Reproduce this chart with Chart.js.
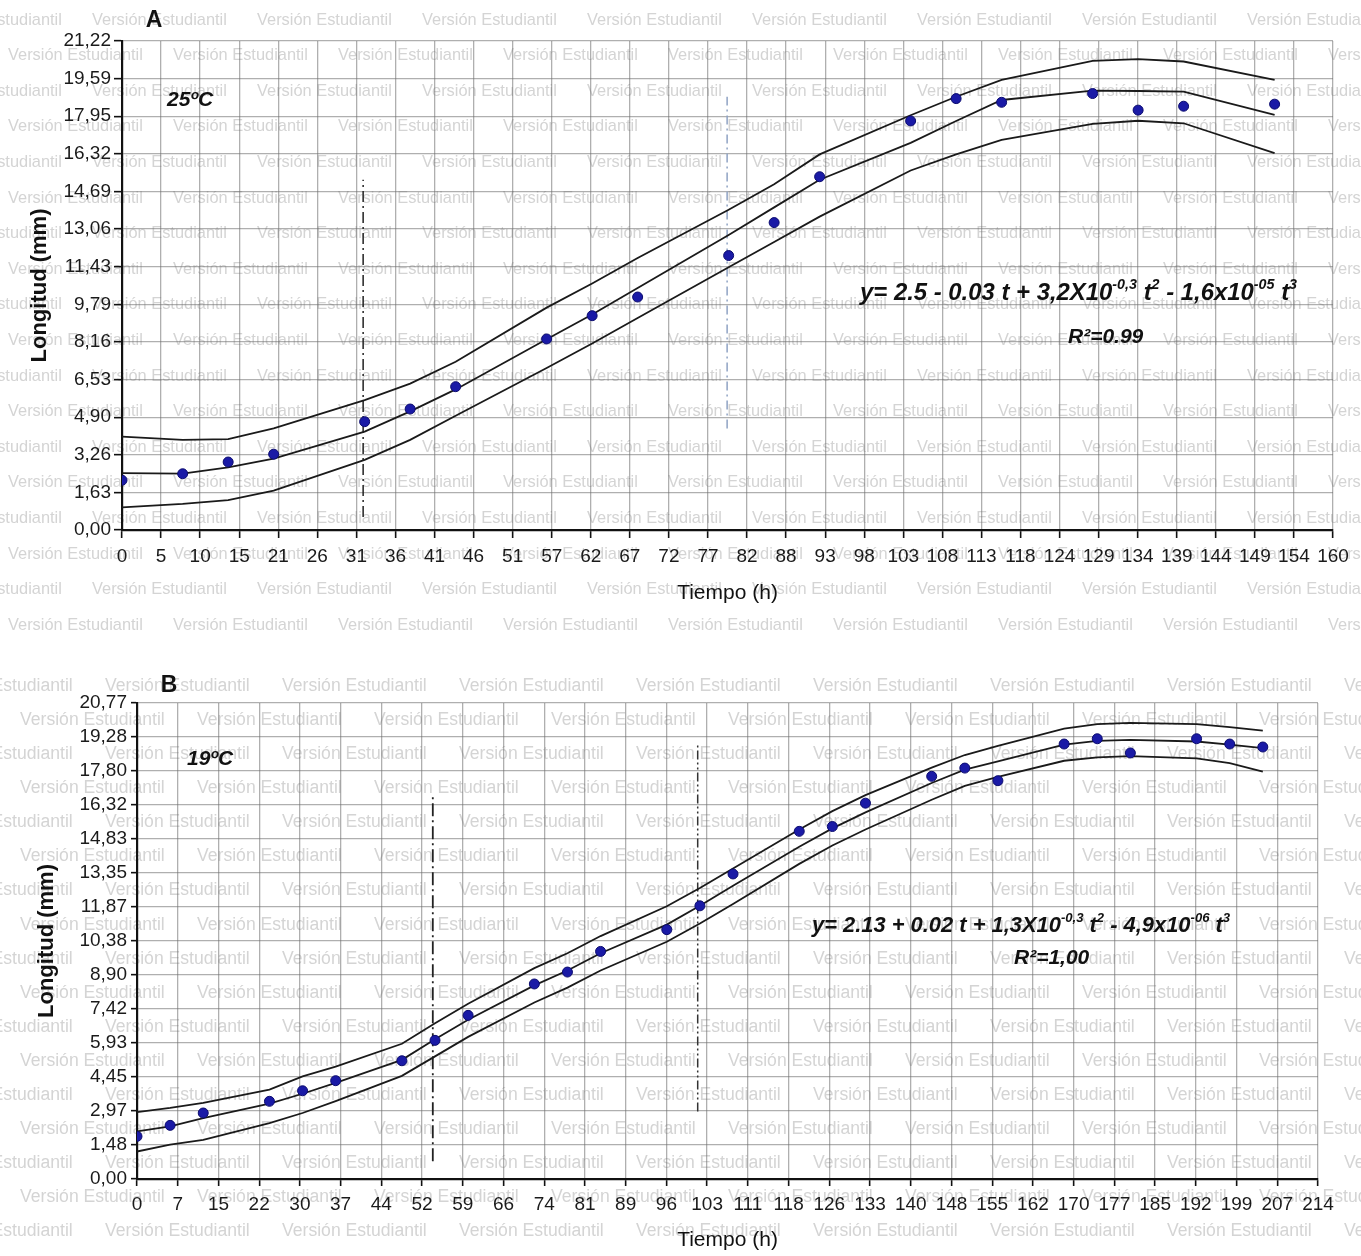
<!DOCTYPE html>
<html>
<head>
<meta charset="utf-8">
<script src="https://cdn.jsdelivr.net/npm/chart.js@4.4.1/dist/chart.umd.min.js"></script>
<style>
  html, body { margin: 0; padding: 0; background: #fff; }
  #wrap { position: relative; width: 1361px; height: 1256px; }
  canvas { position: absolute; left: 0; }
  #chartA { top: 0; }
  #chartB { top: 635px; }
</style>
</head>
<body>
<div id="wrap">
  <canvas id="chartA" width="1361" height="635"></canvas>
  <canvas id="chartB" width="1361" height="621"></canvas>
</div>
<script>
// ----- data, panel A (25 ºC)
const xTicksA = [0, 5, 10, 15, 21, 26, 31, 36, 41, 46, 51, 57, 62, 67, 72, 77, 82, 88, 93, 98,
  103, 108, 113, 118, 124, 129, 134, 139, 144, 149, 154, 160];
const yTicksA = [0, 1.63, 3.26, 4.90, 6.53, 8.16, 9.79, 11.43, 13.06, 14.69, 16.32, 17.95, 19.59, 21.22];
const timeA = [0, 8, 14, 20, 32, 38, 44, 56, 62, 68, 80, 86, 92, 104, 110, 116, 128, 134, 140, 152];
const lengthA = [2.16, 2.44, 2.95, 3.29, 4.70, 5.25, 6.22, 8.29, 9.30, 10.11, 11.91, 13.34, 15.33, 17.75, 18.72, 18.56, 18.94, 18.22, 18.39, 18.48];
const fitA = [2.47, 2.45, 2.72, 3.10, 4.27, 5.15, 6.10, 8.28, 9.35, 10.50, 12.80, 14.00, 15.20, 16.80, 17.75, 18.66, 19.07, 19.05, 19.02, 18.01];
const upperA = [4.05, 3.91, 3.94, 4.41, 5.64, 6.35, 7.30, 9.65, 10.70, 11.80, 13.90, 15.00, 16.30, 18.00, 18.80, 19.53, 20.36, 20.43, 20.33, 19.53];
const lowerA = [0.98, 1.13, 1.30, 1.71, 3.04, 3.91, 4.96, 7.03, 8.09, 9.20, 11.40, 12.50, 13.60, 15.60, 16.30, 16.93, 17.62, 17.76, 17.65, 16.35];
const guideTimeA = [31.8, 79.8];
const guideLowA = [0.56, 4.4];
const guideHighA = [15.2, 18.8];

// ----- data, panel B (19 ºC)
const xTicksB = [0, 7, 15, 22, 30, 37, 44, 52, 59, 66, 74, 81, 89, 96, 103, 111, 118, 126, 133, 140,
  148, 155, 162, 170, 177, 185, 192, 199, 207, 214];
const yTicksB = [0, 1.48, 2.97, 4.45, 5.93, 7.42, 8.90, 10.38, 11.87, 13.35, 14.83, 16.32, 17.80, 19.28, 20.77];
const timeB = [0, 6, 12, 24, 30, 36, 48, 54, 60, 72, 78, 84, 96, 102, 108, 120, 126, 132, 144, 150, 156, 168, 174, 180, 192, 198, 204];
const lengthB = [1.86, 2.34, 2.88, 3.39, 3.85, 4.29, 5.16, 6.05, 7.14, 8.51, 9.03, 9.93, 10.88, 11.92, 13.31, 15.17, 15.38, 16.40,
  17.57, 17.93, 17.38, 18.98, 19.21, 18.59, 19.21, 18.98, 18.85];
const fitB = [2.08, 2.30, 2.66, 3.29, 3.72, 4.19, 5.20, 6.10, 6.95, 8.45, 9.10, 9.85, 11.10, 11.92, 12.80, 14.50, 15.30, 16.00,
  17.28, 17.86, 18.22, 18.95, 19.12, 19.16, 19.09, 18.95, 18.80];
const upperB = [2.92, 3.10, 3.32, 3.90, 4.48, 4.90, 5.90, 6.80, 7.65, 9.20, 9.85, 10.60, 11.90, 12.70, 13.55, 15.25, 16.05, 16.75,
  17.95, 18.50, 18.90, 19.65, 19.85, 19.90, 19.85, 19.72, 19.56];
const lowerB = [1.20, 1.50, 1.71, 2.44, 2.88, 3.40, 4.50, 5.35, 6.20, 7.70, 8.35, 9.10, 10.35, 11.15, 12.00, 13.75, 14.55, 15.25,
  16.55, 17.15, 17.55, 18.25, 18.40, 18.45, 18.35, 18.15, 17.78];
const guideTimeB = [53.6, 101.6];
const guideLowB = [0.77, 2.95];
const guideHighB = [16.77, 18.95];

// ----- look
const NARROW = '"Liberation Sans Narrow", "Arial Narrow", "Liberation Sans", Arial, sans-serif';
const SANS = '"Liberation Sans", Arial, sans-serif';
const gridCol = 'rgba(110,110,110,0.55)';
const dotFill = '#1a1aa6';
const dotLine = '#0b0b6e';

function toXY(xs, ys) {
  return xs.map((x, i) => ({ x: x, y: ys[i] }));
}

function guide(t, lo, hi, color, dash, width) {
  return {
    data: [{ x: t, y: lo }, { x: t, y: hi }],
    showLine: true, borderColor: color, borderWidth: width, borderDash: dash,
    pointRadius: 0, fill: false
  };
}

function curve(xs, ys) {
  return {
    data: toXY(xs, ys), showLine: true, borderColor: '#1a1a1a', borderWidth: 1.8,
    pointRadius: 0, tension: 0, fill: false
  };
}

// rich text with superscripts, stretched to a given width
function drawRich(ctx, parts, x, y, target, family) {
  const fontFor = (s, sup) => 'italic bold ' + (sup ? s * 0.6 : s).toFixed(1) + 'px ' + family;
  const measure = s => parts.reduce((w, p) => {
    ctx.font = fontFor(s, p[1]);
    return w + ctx.measureText(p[0]).width;
  }, 0);
  const size = 22 * target / measure(22);
  ctx.textAlign = 'left';
  ctx.textBaseline = 'alphabetic';
  let cx = x;
  parts.forEach(p => {
    ctx.font = fontFor(size, p[1]);
    ctx.fillText(p[0], cx, p[1] ? y - size * 0.45 : y);
    cx += ctx.measureText(p[0]).width;
  });
}

const overlay = {
  id: 'overlay',
  beforeDraw(chart, args, o) {
    const ctx = chart.ctx;
    const wm = o.watermark;
    ctx.save();
    ctx.font = '19px ' + NARROW;
    const k = wm.width / ctx.measureText('Versión Estudiantil').width;
    ctx.font = (19 * k).toFixed(1) + 'px ' + NARROW;
    ctx.fillStyle = '#d4d4d4';
    ctx.textBaseline = 'middle';
    ctx.textAlign = 'left';
    for (let i = 0; i < wm.rows; i++) {
      const y = wm.y0 + i * wm.step;
      const start = (i % 2 ? wm.x1 : wm.x0) - 2 * wm.period;
      for (let x = start; x < chart.width; x += wm.period) ctx.fillText('Versión Estudiantil', x, y);
    }
    ctx.restore();
  },
  afterDraw(chart, args, o) {
    const ctx = chart.ctx;
    ctx.save();
    ctx.fillStyle = '#111';
    o.labels.forEach(l => {
      ctx.font = l.font;
      ctx.textAlign = l.align || 'left';
      ctx.textBaseline = 'middle';
      ctx.fillText(l.text, l.x, l.y);
    });
    drawRich(ctx, o.equation.parts, o.equation.x, o.equation.y, o.equation.width, SANS);
    ctx.restore();
  }
};

function buildOptions(p) {
  const tickFont = { family: NARROW, size: 19 };
  return {
    responsive: false,
    animation: false,
    layout: { padding: { left: 0, top: p.top, right: p.right, bottom: 0 } },
    plugins: {
      legend: { display: false },
      tooltip: { enabled: false },
      overlay: p.overlay
    },
    scales: {
      x: {
        type: 'linear', min: 0, max: p.xMax,
        afterBuildTicks: s => {
          s.ticks = p.xTicks.map((v, i) => ({ value: i * p.xMax / (p.xTicks.length - 1) }));
        },
        afterFit: s => { s.height = p.xAxisH; },
        ticks: {
          autoSkip: false, maxRotation: 0, minRotation: 0, padding: 7,
          color: '#1a1a1a', font: tickFont,
          callback: (v, i) => String(p.xTicks[i])
        },
        grid: { color: gridCol, lineWidth: 1.3, tickLength: p.xTickLen, tickColor: '#111', tickWidth: 1.6 },
        border: { color: '#111', width: 2.2 },
        title: {
          display: true, text: 'Tiempo (h)', color: '#111',
          font: { family: NARROW, size: 21 }, padding: { top: 0, bottom: p.xTitlePad }
        }
      },
      y: {
        type: 'linear', min: 0, max: p.yMax,
        afterBuildTicks: s => {
          s.ticks = p.yTicks.map((v, i) => ({ value: i * p.yMax / (p.yTicks.length - 1) }));
        },
        afterFit: s => { s.width = p.yAxisW; },
        ticks: {
          autoSkip: false, padding: p.yTickPad, color: '#1a1a1a', font: tickFont,
          callback: (v, i) => p.yTicks[i].toFixed(2).replace('.', ',')
        },
        grid: { color: gridCol, lineWidth: 1.3, tickLength: p.yTickLen, tickColor: '#111', tickWidth: 1.6 },
        border: { color: '#111', width: 2.2 },
        title: {
          display: true, text: 'Longitud (mm)', color: '#111',
          font: { family: NARROW, size: 22, weight: 'bold' }, padding: { top: p.yTitlePad, bottom: 0 }
        }
      }
    }
  };
}

// ----- panel A
new Chart(document.getElementById('chartA'), {
  type: 'scatter',
  plugins: [overlay],
  data: {
    datasets: [
      { data: toXY(timeA, lengthA), pointRadius: 5, pointBackgroundColor: dotFill, pointBorderColor: dotLine, pointBorderWidth: 1 },
      curve(timeA, fitA),
      curve(timeA, upperA),
      curve(timeA, lowerA),
      guide(guideTimeA[0], guideLowA[0], guideHighA[0], '#222', [11, 4, 2, 4], 1.5),
      guide(guideTimeA[1], guideLowA[1], guideHighA[1], '#8fa3c4', [9, 4, 2, 4], 1.5)
    ]
  },
  options: buildOptions({
    xTicks: xTicksA, yTicks: yTicksA, xMax: 159.7, yMax: 21.22,
    top: 41, right: 28, xAxisH: 105, yAxisW: 122,
    xTickLen: 8, yTickLen: 8, yTickPad: 3, xTitlePad: 29, yTitlePad: 27,
    overlay: {
      watermark: { y0: 20, step: 35.6, rows: 18, x0: 92, x1: 8, period: 165, width: 135 },
      labels: [
        { text: 'A', x: 154, y: 21, font: 'bold 23px ' + SANS, align: 'center' },
        { text: '25ºC', x: 167, y: 100, font: 'italic bold 21px ' + SANS },
        { text: 'R²=0.99', x: 1068, y: 337, font: 'italic bold 21px ' + SANS }
      ],
      equation: {
        x: 860, y: 300, width: 437,
        parts: [['y= 2.5 - 0.03 t + 3,2X10', false], ['-0,3', true], [' t', false], ['2', true],
          [' - 1,6x10', false], ['-05', true], [' t', false], ['3', true]]
      }
    }
  })
});

// ----- panel B
new Chart(document.getElementById('chartB'), {
  type: 'scatter',
  plugins: [overlay],
  data: {
    datasets: [
      { data: toXY(timeB, lengthB), pointRadius: 5, pointBackgroundColor: dotFill, pointBorderColor: dotLine, pointBorderWidth: 1 },
      curve(timeB, fitB),
      curve(timeB, upperB),
      curve(timeB, lowerB),
      guide(guideTimeB[0], guideLowB[0], guideHighB[0], '#222', [13, 4, 2, 4], 1.8),
      guide(guideTimeB[1], guideLowB[1], guideHighB[1], '#333', [9, 3, 2, 3, 2, 3], 1.5)
    ]
  },
  options: buildOptions({
    xTicks: xTicksB, yTicks: yTicksB, xMax: 214, yMax: 20.77,
    top: 68, right: 43, xAxisH: 77, yAxisW: 137,
    xTickLen: 7, yTickLen: 6, yTickPad: 4, xTitlePad: 3, yTitlePad: 34,
    overlay: {
      watermark: { y0: 51, step: 34.1, rows: 17, x0: 105, x1: 20, period: 177, width: 145 },
      labels: [
        { text: 'B', x: 169, y: 51, font: 'bold 23px ' + SANS, align: 'center' },
        { text: '19ºC', x: 187, y: 124, font: 'italic bold 21px ' + SANS },
        { text: 'R²=1,00', x: 1014, y: 323, font: 'italic bold 21px ' + SANS }
      ],
      equation: {
        x: 812, y: 297, width: 418,
        parts: [['y= 2.13 + 0.02 t + 1,3X10', false], ['-0,3', true], [' t', false], ['2', true],
          [' - 4,9x10', false], ['-06', true], [' t', false], ['3', true]]
      }
    }
  })
});
</script>
</body>
</html>
